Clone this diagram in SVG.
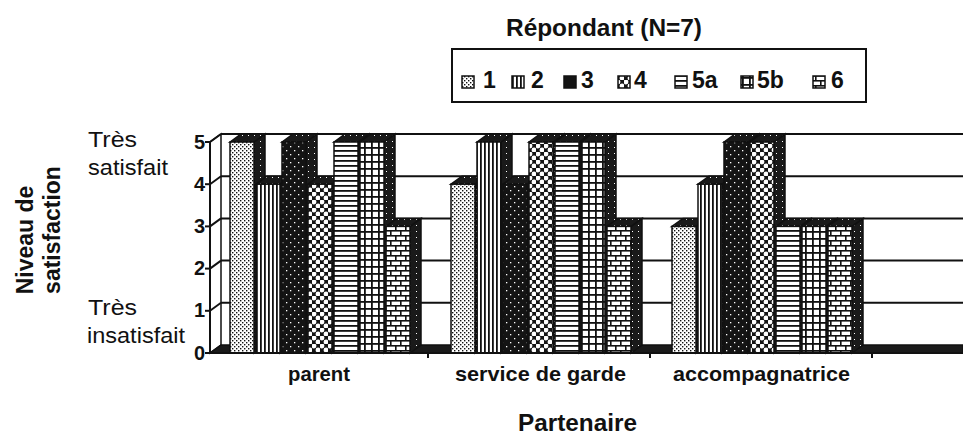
<svg xmlns="http://www.w3.org/2000/svg" width="963" height="435" viewBox="0 0 963 435">
<style>
text{font-family:"Liberation Sans",Arial,sans-serif;fill:#111}
.b{font-weight:bold}
.grid{stroke:#111;stroke-width:2;fill:none}
.fr{stroke:#111;stroke-width:1.5}
.sd{fill:url(#pS);stroke:#111;stroke-width:1.5}
.tp{fill:url(#pS);stroke:#111;stroke-width:1.5}
.ax{stroke:#111;stroke-width:2;fill:none}
.sw{stroke:#111;stroke-width:1.5}
</style>
<defs>
<pattern id="p1" width="4" height="4" patternUnits="userSpaceOnUse"><rect width="4" height="4" fill="#fff"/><rect width="1.4" height="1.4" fill="#111"/><rect x="2" y="2" width="1.4" height="1.4" fill="#111"/></pattern>
<pattern id="p2" width="4" height="4" patternUnits="userSpaceOnUse"><rect width="4" height="4" fill="#fff"/><rect width="1.8" height="4" fill="#111"/></pattern>
<pattern id="p3" width="8" height="8" patternUnits="userSpaceOnUse"><rect width="8" height="8" fill="#141414"/><rect x="2" y="2" width="1.3" height="1.3" fill="#fff"/><rect x="6" y="6" width="1.3" height="1.3" fill="#fff"/></pattern>
<pattern id="p4" width="8" height="8" patternUnits="userSpaceOnUse"><rect width="8" height="8" fill="#141414"/><circle cx="2" cy="2" r="2.4" fill="#fff"/><circle cx="6" cy="6" r="2.4" fill="#fff"/></pattern>
<pattern id="p5a" width="5" height="5" patternUnits="userSpaceOnUse"><rect width="5" height="5" fill="#fff"/><rect width="5" height="1.8" fill="#111"/></pattern>
<pattern id="p5b" width="7" height="7" patternUnits="userSpaceOnUse"><rect width="7" height="7" fill="#fff"/><rect width="7" height="1.8" fill="#111"/><rect width="1.8" height="7" fill="#111"/></pattern>
<pattern id="p6" width="10" height="10" patternUnits="userSpaceOnUse"><rect width="10" height="10" fill="#fff"/><rect width="10" height="1.6" fill="#111"/><rect y="5" width="10" height="1.6" fill="#111"/><rect x="0" width="1.6" height="5" fill="#111"/><rect x="5" y="5" width="1.6" height="5" fill="#111"/></pattern>
<pattern id="pS" width="6" height="6" patternUnits="userSpaceOnUse"><rect width="6" height="6" fill="#1a1a1a"/><rect x="2" y="3" width="1" height="1" fill="#fff"/></pattern>
</defs>
<rect width="963" height="435" fill="#fff"/>

<g id="title"><text class="b" x="604" y="36" font-size="23" text-anchor="middle" textLength="196" lengthAdjust="spacingAndGlyphs">Répondant (N=7)</text></g>

<g id="legend">
<rect x="452" y="49" width="414" height="53" fill="#fff" stroke="#111" stroke-width="2"/>
<g id="leg1"><rect class="sw" x="462" y="76" width="12" height="12" fill="url(#p1)"/><text class="b" x="483" y="88" font-size="23">1</text></g>
<g id="leg2"><rect class="sw" x="512" y="76" width="12" height="12" fill="url(#p2)"/><text class="b" x="531" y="88" font-size="23">2</text></g>
<g id="leg3"><rect class="sw" x="564" y="76" width="12" height="12" fill="#141414"/><text class="b" x="581" y="88" font-size="23">3</text></g>
<g id="leg4"><rect class="sw" x="618" y="76" width="12" height="12" fill="url(#p4)"/><text class="b" x="634" y="88" font-size="23">4</text></g>
<g id="leg5a"><rect class="sw" x="675" y="76" width="12" height="12" fill="url(#p5a)"/><text class="b" x="692" y="88" font-size="23">5a</text></g>
<g id="leg5b"><rect class="sw" x="741" y="76" width="12" height="12" fill="url(#p5b)"/><text class="b" x="757" y="88" font-size="23">5b</text></g>
<g id="leg6"><rect class="sw" x="813" y="76" width="12" height="12" fill="url(#p6)"/><text class="b" x="831" y="88" font-size="23">6</text></g>
</g>

<g id="walls">
<rect x="221" y="134" width="742" height="211" fill="#fff"/>
<polygon points="210,353 221,345 221,134 210,142" fill="#fff" stroke="#111" stroke-width="1.5"/>
<g class="grid">
<line x1="221" y1="134" x2="963" y2="134"/>
<line x1="221" y1="176.2" x2="963" y2="176.2"/>
<line x1="221" y1="218.4" x2="963" y2="218.4"/>
<line x1="221" y1="260.6" x2="963" y2="260.6"/>
<line x1="221" y1="302.8" x2="963" y2="302.8"/>
<line x1="210" y1="142" x2="221" y2="134"/>
<line x1="210" y1="184.2" x2="221" y2="176.2"/>
<line x1="210" y1="226.4" x2="221" y2="218.4"/>
<line x1="210" y1="268.6" x2="221" y2="260.6"/>
<line x1="210" y1="310.8" x2="221" y2="302.8"/>
</g>
<polygon points="210,353 963,353 963,345 221,345" fill="#1a1a1a" stroke="#111" stroke-width="1.5"/>
</g>

<g id="cat-parent">
<polygon class="sd" points="254,142 265,134 265,345 254,353"/><polygon class="tp" points="230,142 241,134 265,134 254,142"/><rect class="fr" x="230" y="142" width="24" height="211" fill="url(#p1)"/>
<polygon class="sd" points="280,184.2 291,176.2 291,345 280,353"/><polygon class="tp" points="256,184.2 267,176.2 291,176.2 280,184.2"/><rect class="fr" x="256" y="184.2" width="24" height="168.8" fill="url(#p2)"/>
<polygon class="sd" points="306,142 317,134 317,345 306,353"/><polygon class="tp" points="282,142 293,134 317,134 306,142"/><rect class="fr" x="282" y="142" width="24" height="211" fill="url(#p3)"/>
<polygon class="sd" points="332,184.2 343,176.2 343,345 332,353"/><polygon class="tp" points="308,184.2 319,176.2 343,176.2 332,184.2"/><rect class="fr" x="308" y="184.2" width="24" height="168.8" fill="url(#p4)"/>
<polygon class="sd" points="358,142 369,134 369,345 358,353"/><polygon class="tp" points="334,142 345,134 369,134 358,142"/><rect class="fr" x="334" y="142" width="24" height="211" fill="url(#p5a)"/>
<polygon class="sd" points="384,142 395,134 395,345 384,353"/><polygon class="tp" points="360,142 371,134 395,134 384,142"/><rect class="fr" x="360" y="142" width="24" height="211" fill="url(#p5b)"/>
<polygon class="sd" points="410,226.4 421,218.4 421,345 410,353"/><polygon class="tp" points="386,226.4 397,218.4 421,218.4 410,226.4"/><rect class="fr" x="386" y="226.4" width="24" height="126.6" fill="url(#p6)"/>
</g>

<g id="cat-service">
<polygon class="sd" points="475,184.2 486,176.2 486,345 475,353"/><polygon class="tp" points="451,184.2 462,176.2 486,176.2 475,184.2"/><rect class="fr" x="451" y="184.2" width="24" height="168.8" fill="url(#p1)"/>
<polygon class="sd" points="501,142 512,134 512,345 501,353"/><polygon class="tp" points="477,142 488,134 512,134 501,142"/><rect class="fr" x="477" y="142" width="24" height="211" fill="url(#p2)"/>
<polygon class="sd" points="527,184.2 538,176.2 538,345 527,353"/><polygon class="tp" points="503,184.2 514,176.2 538,176.2 527,184.2"/><rect class="fr" x="503" y="184.2" width="24" height="168.8" fill="url(#p3)"/>
<polygon class="sd" points="553,142 564,134 564,345 553,353"/><polygon class="tp" points="529,142 540,134 564,134 553,142"/><rect class="fr" x="529" y="142" width="24" height="211" fill="url(#p4)"/>
<polygon class="sd" points="579,142 590,134 590,345 579,353"/><polygon class="tp" points="555,142 566,134 590,134 579,142"/><rect class="fr" x="555" y="142" width="24" height="211" fill="url(#p5a)"/>
<polygon class="sd" points="605,142 616,134 616,345 605,353"/><polygon class="tp" points="581,142 592,134 616,134 605,142"/><rect class="fr" x="581" y="142" width="24" height="211" fill="url(#p5b)"/>
<polygon class="sd" points="631,226.4 642,218.4 642,345 631,353"/><polygon class="tp" points="607,226.4 618,218.4 642,218.4 631,226.4"/><rect class="fr" x="607" y="226.4" width="24" height="126.6" fill="url(#p6)"/>
</g>

<g id="cat-accompagnatrice">
<polygon class="sd" points="696,226.4 707,218.4 707,345 696,353"/><polygon class="tp" points="672,226.4 683,218.4 707,218.4 696,226.4"/><rect class="fr" x="672" y="226.4" width="24" height="126.6" fill="url(#p1)"/>
<polygon class="sd" points="722,184.2 733,176.2 733,345 722,353"/><polygon class="tp" points="698,184.2 709,176.2 733,176.2 722,184.2"/><rect class="fr" x="698" y="184.2" width="24" height="168.8" fill="url(#p2)"/>
<polygon class="sd" points="748,142 759,134 759,345 748,353"/><polygon class="tp" points="724,142 735,134 759,134 748,142"/><rect class="fr" x="724" y="142" width="24" height="211" fill="url(#p3)"/>
<polygon class="sd" points="774,142 785,134 785,345 774,353"/><polygon class="tp" points="750,142 761,134 785,134 774,142"/><rect class="fr" x="750" y="142" width="24" height="211" fill="url(#p4)"/>
<polygon class="sd" points="800,226.4 811,218.4 811,345 800,353"/><polygon class="tp" points="776,226.4 787,218.4 811,218.4 800,226.4"/><rect class="fr" x="776" y="226.4" width="24" height="126.6" fill="url(#p5a)"/>
<polygon class="sd" points="826,226.4 837,218.4 837,345 826,353"/><polygon class="tp" points="802,226.4 813,218.4 837,218.4 826,226.4"/><rect class="fr" x="802" y="226.4" width="24" height="126.6" fill="url(#p5b)"/>
<polygon class="sd" points="852,226.4 863,218.4 863,345 852,353"/><polygon class="tp" points="828,226.4 839,218.4 863,218.4 852,226.4"/><rect class="fr" x="828" y="226.4" width="24" height="126.6" fill="url(#p6)"/>
</g>

<g id="axes">
<g class="ax">
<line x1="210" y1="142" x2="210" y2="354"/>
<line x1="210" y1="353" x2="963" y2="353"/>
<line x1="205" y1="142" x2="210" y2="142"/>
<line x1="205" y1="184.2" x2="210" y2="184.2"/>
<line x1="205" y1="226.4" x2="210" y2="226.4"/>
<line x1="205" y1="268.6" x2="210" y2="268.6"/>
<line x1="205" y1="310.8" x2="210" y2="310.8"/>
<line x1="205" y1="353" x2="210" y2="353"/>
<line x1="428" y1="353" x2="428" y2="358"/>
<line x1="650" y1="353" x2="650" y2="358"/>
<line x1="872" y1="353" x2="872" y2="358"/>
</g>
<g class="b" font-size="20" text-anchor="end">
<text x="205" y="149">5</text>
<text x="205" y="191">4</text>
<text x="205" y="233">3</text>
<text x="205" y="275">2</text>
<text x="205" y="317">1</text>
<text x="205" y="360">0</text>
</g>
<g font-size="22">
<text x="88" y="147" textLength="49" lengthAdjust="spacingAndGlyphs">Très</text>
<text x="88" y="175" textLength="80" lengthAdjust="spacingAndGlyphs">satisfait</text>
<text x="88" y="315" textLength="49" lengthAdjust="spacingAndGlyphs">Très</text>
<text x="87" y="343" textLength="98" lengthAdjust="spacingAndGlyphs">insatisfait</text>
</g>
</g>

<g id="category-labels" class="b" font-size="21">
<text x="288" y="381" textLength="62" lengthAdjust="spacingAndGlyphs">parent</text>
<text x="455" y="381" textLength="171" lengthAdjust="spacingAndGlyphs">service de garde</text>
<text x="673" y="381" textLength="177" lengthAdjust="spacingAndGlyphs">accompagnatrice</text>
</g>

<g id="axis-titles" class="b" font-size="23">
<text x="518" y="431" textLength="119" lengthAdjust="spacingAndGlyphs">Partenaire</text>
<text transform="translate(33,240) rotate(-90)" text-anchor="middle">Niveau de</text>
<text transform="translate(60,230) rotate(-90)" text-anchor="middle">satisfaction</text>
</g>
</svg>
